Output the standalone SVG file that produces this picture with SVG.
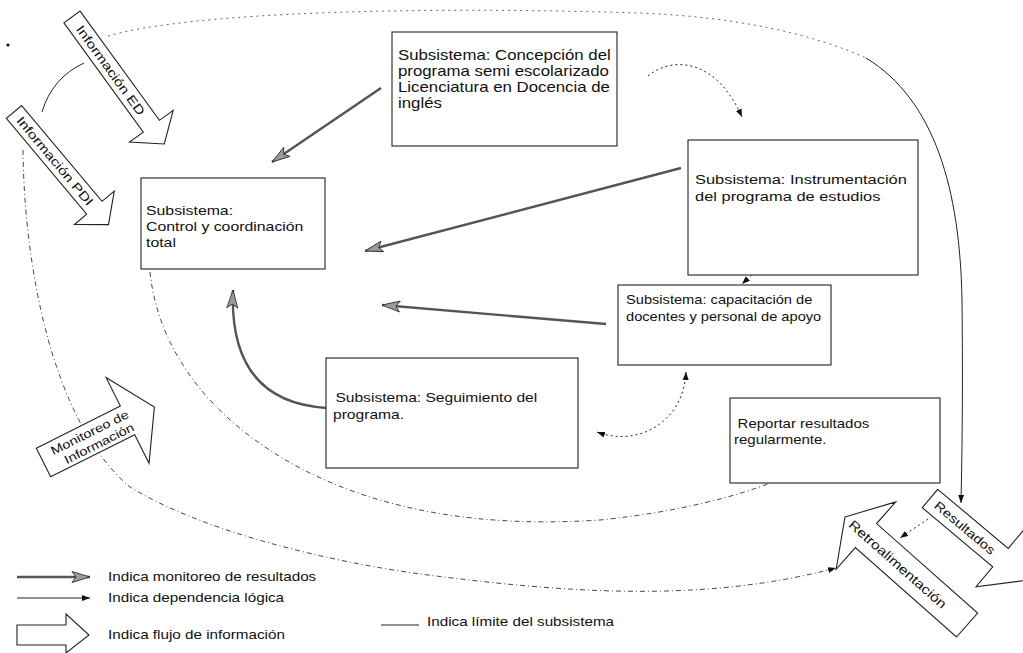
<svg xmlns="http://www.w3.org/2000/svg" width="1023" height="653" viewBox="0 0 1023 653">
<style>
.t{font-family:"Liberation Sans",Arial,sans-serif;fill:#111}
.box{fill:#fff;stroke:#222;stroke-width:1.1}
.blk{fill:#fff;stroke:#222;stroke-width:1.1}
.mon{fill:none;stroke:#555;stroke-width:2.4}
.dep{fill:none;stroke:#222;stroke-width:1;stroke-dasharray:2 3}
.solid{fill:none;stroke:#222;stroke-width:1}
.bnd{fill:none;stroke:#333;stroke-width:0.9;stroke-dasharray:5 3 1 3}
.dot{fill:none;stroke:#555;stroke-width:0.9;stroke-dasharray:2 4}
</style>
<defs>
<marker id="mh" markerUnits="userSpaceOnUse" markerWidth="20" markerHeight="12" refX="19" refY="6" orient="auto">
<path d="M1,0.5 L19,6 L1,11.5 L5,6 z" fill="#9a9a9a" stroke="#333" stroke-width="0.9"/>
</marker>
<marker id="dh" markerUnits="userSpaceOnUse" markerWidth="9" markerHeight="7" refX="8" refY="3.5" orient="auto-start-reverse">
<path d="M0,0.5 L8,3.5 L0,6.5 z" fill="#111"/>
</marker>
</defs>

<g id="connectors">
<path class="dot" d="M108,36 C190,12 420,6 640,13 C740,17 815,35 866,58"/>
<path class="solid" d="M866,58 C935,100 960,190 962,300 C963,400 962,450 961,503" marker-end="url(#dh)"/>
<path class="bnd" d="M23,150 C24,260 50,420 130,487 C200,530 320,560 420,574 C560,592 700,604 836,568" marker-end="url(#dh)"/>
<path class="bnd" d="M150,272 C158,350 210,420 300,468 C380,510 480,528 600,520 C680,512 740,495 770,483"/>
<path class="solid" d="M84,63 Q52,78 42,112"/>
<path class="mon" d="M381,88 L272,162" marker-end="url(#mh)"/>
<path class="mon" d="M681,168 L365,251" marker-end="url(#mh)"/>
<path class="mon" d="M606,324 L382,305" marker-end="url(#mh)"/>
<path class="mon" d="M327,408 C262,404 230,365 233,290" marker-end="url(#mh)"/>
<path class="dep" d="M648,76 C672,56 716,58 742,117" marker-end="url(#dh)"/>
<path class="dep" d="M759,268 L742,284" marker-end="url(#dh)"/>
<path class="dep" d="M686,372 C684,420 640,448 597,432" marker-start="url(#dh)" marker-end="url(#dh)"/>
<path class="dep" d="M928,519 L900,538" marker-end="url(#dh)"/>
</g>

<circle cx="8" cy="45" r="1.6" fill="#111"/>

<g id="info-ed" transform="translate(72,17) rotate(54)">
<polygon class="blk" points="0,-10 135,-10 135,-27 157,0 135,27 135,10 0,10"/>
<text class="t" font-size="12.5" transform="translate(12,4.5) scale(1.25,1)">Información ED</text>
</g>
<g id="info-pdi" transform="translate(14,112) rotate(50)">
<polygon class="blk" points="0,-10 125,-10 125,-26 147,0 125,26 125,10 0,10"/>
<text class="t" font-size="12.5" transform="translate(8,4.5) scale(1.25,1)">Información PDI</text>
</g>
<g id="monitoreo" transform="translate(43.5,462.5) rotate(-26.6)">
<polygon class="blk" points="0,-16 94,-16 94,-48 124,0 94,48 94,16 0,16"/>
<text class="t" font-size="12" transform="translate(12,-2) scale(1.22,1)">Monitoreo de</text>
<text class="t" font-size="12" transform="translate(20,12) scale(1.22,1)">Información</text>
</g>
<g id="resultados" transform="translate(930,498.5) rotate(40)">
<polygon class="blk" points="0,-12 92,-12 92,-38 127,0 92,38 92,12 0,12"/>
<text class="t" font-size="12.5" transform="translate(8,4.5) scale(1.2,1)">Resultados</text>
</g>
<g id="retroalimentacion" transform="translate(845,517) rotate(41.5)">
<polygon class="blk" points="0,0 28,-45 28,-16 163,-16 163,16 28,16 28,45"/>
<text class="t" font-size="13" transform="translate(8,5) scale(1.2,1)">Retroalimentación</text>
</g>

<g id="concepcion">
<rect class="box" x="392" y="32" width="225" height="114"/>
<text class="t" font-size="14" transform="translate(398,60) scale(1.2,1)"><tspan x="0" y="0">Subsistema: Concepción del</tspan><tspan x="0" y="16">programa semi escolarizado</tspan><tspan x="0" y="32">Licenciatura en Docencia de</tspan><tspan x="0" y="48">inglés</tspan></text>
</g>
<g id="instrumentacion">
<rect class="box" x="688" y="140" width="230" height="135"/>
<text class="t" font-size="13.7" transform="translate(695,184) scale(1.2,1)"><tspan x="0" y="0">Subsistema: Instrumentación</tspan><tspan x="0" y="17">del programa de estudios</tspan></text>
</g>
<g id="control">
<rect class="box" x="141" y="178" width="184" height="91"/>
<text class="t" font-size="13.2" transform="translate(146,215) scale(1.2,1)"><tspan x="0" y="0">Subsistema:</tspan><tspan x="0" y="16">Control y coordinación</tspan><tspan x="0" y="32">total</tspan></text>
</g>
<g id="capacitacion">
<rect class="box" x="618" y="285" width="213" height="80"/>
<text class="t" font-size="12.2" transform="translate(626,304) scale(1.2,1)"><tspan x="0" y="0">Subsistema: capacitación de</tspan><tspan x="0" y="17">docentes y personal de apoyo</tspan></text>
</g>
<g id="seguimiento">
<rect class="box" x="326" y="358" width="252" height="110"/>
<text class="t" font-size="13" transform="translate(333,402) scale(1.2,1)"><tspan x="2" y="0">Subsistema: Seguimiento del</tspan><tspan x="0" y="17">programa.</tspan></text>
</g>
<g id="reportar">
<rect class="box" x="730" y="398" width="210" height="85"/>
<text class="t" font-size="12.5" transform="translate(734,428) scale(1.2,1)"><tspan x="3" y="0">Reportar resultados</tspan><tspan x="0" y="16">regularmente.</tspan></text>
</g>

<g id="legend">
<path class="mon" d="M17,577 L90,577" marker-end="url(#mh)"/>
<text class="t" font-size="12.7" transform="translate(108,581) scale(1.2,1)">Indica monitoreo de resultados</text>
<path class="solid" d="M17,598 L90,598" marker-end="url(#dh)"/>
<text class="t" font-size="12.7" transform="translate(108,602) scale(1.2,1)">Indica dependencia lógica</text>
<polygon class="blk" points="17,625 66,625 66,614 89,635 66,653 66,645 17,645"/>
<text class="t" font-size="12.7" transform="translate(108,639) scale(1.2,1)">Indica flujo de información</text>
<path class="solid" d="M381,625 L419,625"/>
<text class="t" font-size="12.7" transform="translate(427,626) scale(1.2,1)">Indica límite del subsistema</text>
</g>
</svg>
